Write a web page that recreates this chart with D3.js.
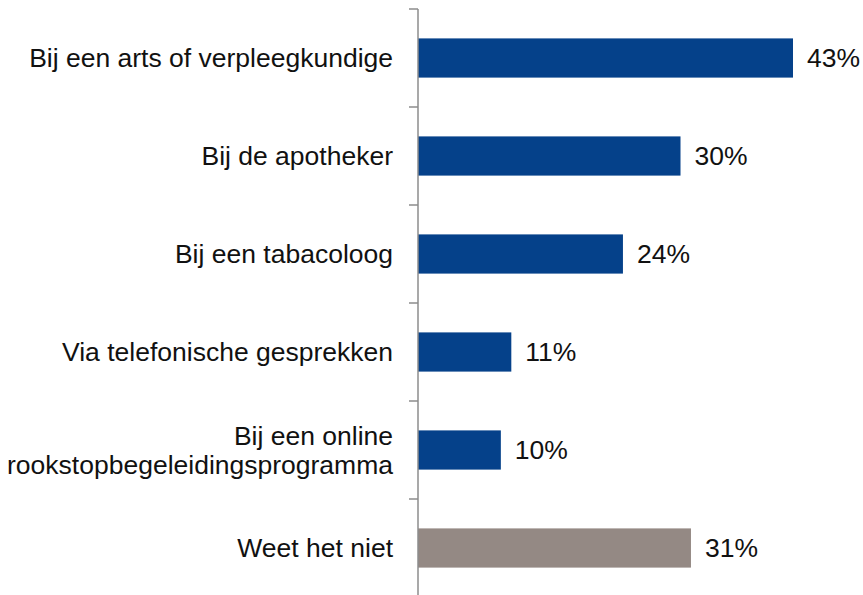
<!DOCTYPE html>
<html><head><meta charset="utf-8">
<script src="https://cdn.jsdelivr.net/npm/d3@7"></script>
<style>body{margin:0;background:#fff}svg{display:block}</style>
</head><body><svg id="c" width="863" height="595"></svg>
<script>
const categories = [
  ["Bij een arts of verpleegkundige"],
  ["Bij de apotheker"],
  ["Bij een tabacoloog"],
  ["Via telefonische gesprekken"],
  ["Bij een online", "rookstopbegeleidingsprogramma"],
  ["Weet het niet"]
];
const values = [43, 30.1, 23.5, 10.7, 9.5, 31.3];
const valueLabels = ["43%", "30%", "24%", "11%", "10%", "31%"];
const barColors = ["#05418A", "#05418A", "#05418A", "#05418A", "#05418A", "#948984"];

const svg = d3.select("#c");
const x0 = 418;
const x = d3.scaleLinear().domain([0, 43]).range([x0, 793]);
const y = d3.scaleBand().domain(d3.range(categories.length)).range([9, 597]).paddingInner(0.6).paddingOuter(0.3);
const yTicks = d3.scaleBand().domain(d3.range(categories.length)).range([9, 597]);
const font = "'Liberation Sans', Arial, sans-serif";
const fs = 26.5;

svg.selectAll("rect.bar").data(values).enter().append("rect")
  .attr("x", x0).attr("y", (d,i)=>y(i))
  .attr("width", d=>x(d)-x0).attr("height", y.bandwidth())
  .attr("fill", (d,i)=>barColors[i]);

// axis
const g = svg.append("g");
g.append("line").attr("x1", x0).attr("x2", x0).attr("y1", 9).attr("y2", 597)
  .attr("stroke", "#8c8c8c").attr("stroke-width", 1.5);
g.selectAll("line.t").data(d3.range(categories.length)).enter().append("line")
  .attr("x1", 409).attr("x2", x0).attr("y1", i=>yTicks(i)).attr("y2", i=>yTicks(i))
  .attr("stroke", "#8c8c8c").attr("stroke-width", 1.5);

// category labels
categories.forEach((lines, i) => {
  const cy = y(i) + y.bandwidth()/2;
  const lh = 29;
  const t = svg.append("text").attr("text-anchor", "end")
    .attr("font-family", font).attr("font-size", fs).attr("fill", "#111");
  lines.forEach((ln, k) => {
    t.append("tspan").attr("x", 393)
      .attr("y", cy + (k - (lines.length-1)/2) * lh)
      .attr("dy", "0.35em").text(ln);
  });
});

// value labels
svg.selectAll("text.v").data(values).enter().append("text")
  .attr("x", d=>x(d)+14).attr("y", (d,i)=>y(i)+y.bandwidth()/2).attr("dy", "0.35em")
  .attr("font-family", font).attr("font-size", fs).attr("fill", "#111")
  .text((d,i)=>valueLabels[i]);
</script></body></html>
